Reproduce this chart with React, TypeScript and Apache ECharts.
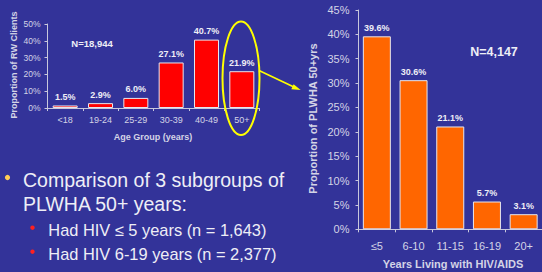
import React, { useEffect, useRef } from "react";
import * as echarts from "echarts";

const ageGroups = ["<18", "19-24", "25-29", "30-39", "40-49", "50+"];
const ageShares = [1.5, 2.9, 6.0, 27.1, 40.7, 21.9];
const yearGroups = ["≤5", "6-10", "11-15", "16-19", "20+"];
const yearShares = [39.6, 30.6, 21.1, 5.7, 3.1];
const bulletMain = ["Comparison of 3 subgroups of", "PLWHA 50+ years:"];
const bulletSub = [
  "Had HIV ≤ 5 years (n = 1,643)",
  "Had HIV 6-19 years (n = 2,377)",
  "Had HIV ≥ 20 years (n = 127)",
];

const FONT = "'Liberation Sans', Arial, Helvetica, sans-serif";
const BG = "#333399";
const AXIS = "#c8c8dc";
const LABEL = "#d4d4e6";
const WHITE = "#eeeef6";

export default function App() {
  const ref = useRef<HTMLDivElement>(null);
  useEffect(() => {
    if (!ref.current) return;
    const chart = echarts.init(ref.current, undefined, { renderer: "svg" });
    const pct = (p: any) => Number(p.value).toFixed(1) + "%";
    const axisCommon = {
      axisLine: { show: true, lineStyle: { color: AXIS, width: 1 } },
      axisTick: { show: true, length: 3, lineStyle: { color: AXIS } },
      splitLine: { show: false },
    };
    const graphic: any[] = [];
    // axis titles
    graphic.push({
      type: "text", x: 14.2, y: 65, rotation: Math.PI / 2,
      style: { text: "Proportion of RW Clients", fill: LABEL, font: `bold 9px ${FONT}`, align: "center", verticalAlign: "middle" },
    });
    graphic.push({
      type: "text", x: 153, y: 136.5,
      style: { text: "Age Group (years)", fill: LABEL, font: `bold 9px ${FONT}`, align: "center", verticalAlign: "middle" },
    });
    graphic.push({
      type: "text", x: 92, y: 43.5,
      style: { text: "N=18,944", fill: WHITE, font: `bold 9.5px ${FONT}`, align: "center", verticalAlign: "middle" },
    });
    graphic.push({
      type: "text", x: 313, y: 118.5, rotation: Math.PI / 2,
      style: { text: "Proportion of PLWHA 50+yrs", fill: LABEL, font: `bold 11px ${FONT}`, align: "center", verticalAlign: "middle" },
    });
    graphic.push({
      type: "text", x: 453, y: 264.3,
      style: { text: "Years Living with HIV/AIDS", fill: LABEL, font: `bold 11px ${FONT}`, align: "center", verticalAlign: "middle" },
    });
    graphic.push({
      type: "text", x: 494, y: 52,
      style: { text: "N=4,147", fill: WHITE, font: `bold 12.5px ${FONT}`, align: "center", verticalAlign: "middle" },
    });
    // highlight ellipse and arrow
    graphic.push({
      type: "ellipse", shape: { cx: 241, cy: 78.3, rx: 18.5, ry: 56.7 },
      style: { stroke: "#ffff00", lineWidth: 2, fill: "none" }, z: 10,
    });
    graphic.push({
      type: "line", shape: { x1: 259, x2: 296, y1: 70.5, y2: 88 },
      style: { stroke: "#ffff00", lineWidth: 1.6 }, z: 10,
    });
    graphic.push({
      type: "polygon", shape: { points: [[300.7, 90], [293.6, 84.2], [291.3, 89.2]] },
      style: { fill: "#ffff00" }, z: 10,
    });
    // bullet text
    graphic.push({ type: "circle", shape: { cx: 7.5, cy: 177.5, r: 2.6 }, style: { fill: "#ffcc55" } });
    bulletMain.forEach((t, i) => {
      graphic.push({
        type: "text", x: 23, y: 180 + i * 24,
        style: { text: t, fill: WHITE, font: `19.5px ${FONT}`, align: "left", verticalAlign: "middle" },
      });
    });
    bulletSub.forEach((t, i) => {
      graphic.push({ type: "circle", shape: { cx: 32.5, cy: 227.7 + i * 24, r: 2.2 }, style: { fill: "#ff2020" } });
      graphic.push({
        type: "text", x: 48.3, y: 229.7 + i * 24,
        style: { text: t, fill: WHITE, font: `16.4px ${FONT}`, align: "left", verticalAlign: "middle" },
      });
    });

    chart.setOption({
      animation: false,
      backgroundColor: BG,
      textStyle: { fontFamily: FONT },
      grid: [
        { left: 47.5, top: 24, width: 212, height: 84 },
        { left: 358.5, top: 10, width: 190, height: 219.3 },
      ],
      xAxis: [
        {
          gridIndex: 0, type: "category", data: ageGroups, ...axisCommon,
          axisLabel: { color: LABEL, fontSize: 9, margin: 7, fontFamily: FONT },
        },
        {
          gridIndex: 1, type: "category", data: yearGroups, ...axisCommon,
          axisLabel: { color: LABEL, fontSize: 11, margin: 11, fontFamily: FONT },
        },
      ],
      yAxis: [
        {
          gridIndex: 0, type: "value", min: 0, max: 50, interval: 10, ...axisCommon,
          axisLabel: { color: LABEL, fontSize: 8.5, margin: 7, fontFamily: FONT, formatter: "{value}%" },
        },
        {
          gridIndex: 1, type: "value", min: 0, max: 45, interval: 5, ...axisCommon,
          axisLabel: { color: LABEL, fontSize: 11, margin: 9, fontFamily: FONT, formatter: "{value}%" },
        },
      ],
      series: [
        {
          type: "bar", xAxisIndex: 0, yAxisIndex: 0, data: ageShares, barWidth: 25,
          itemStyle: { color: "#ff0000", borderColor: "#e6e6ee", borderWidth: 1 },
          label: { show: true, position: "top", distance: 4, formatter: pct, color: WHITE, fontSize: 9, fontWeight: "bold", fontFamily: FONT },
        },
        {
          type: "bar", xAxisIndex: 1, yAxisIndex: 1, data: yearShares, barWidth: 28,
          itemStyle: { color: "#ff6600", borderColor: "#e6e6ee", borderWidth: 1 },
          label: { show: true, position: "top", distance: 4, formatter: pct, color: WHITE, fontSize: 9, fontWeight: "bold", fontFamily: FONT },
        },
      ],
      graphic,
    });
    return () => chart.dispose();
  }, []);
  return (
    <div
      ref={ref}
      style={{ position: "fixed", left: 0, top: 0, width: 542, height: 272, background: BG, overflow: "hidden" }}
    />
  );
}
